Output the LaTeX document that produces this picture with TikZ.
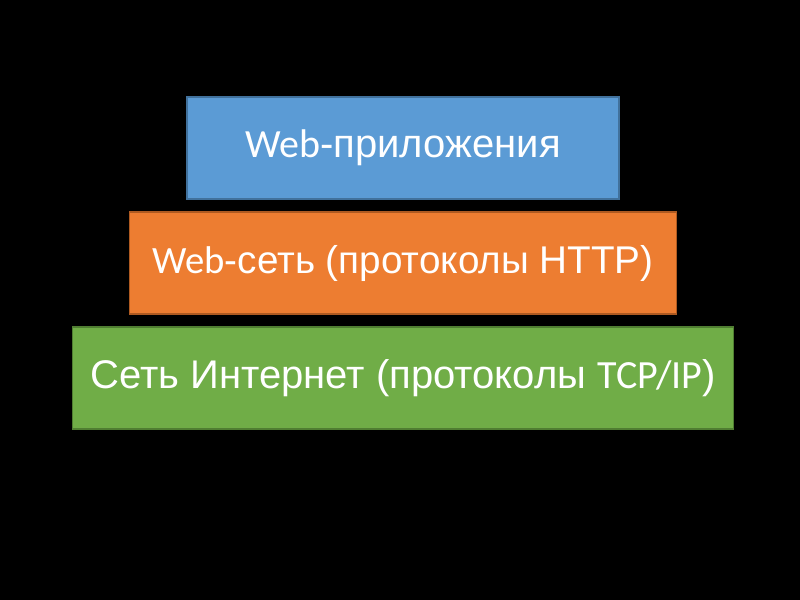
\documentclass[tikz,border=0pt]{standalone}
\usepackage{fontspec}
\setmainfont{Liberation Sans}
\newfontfamily\latinfont{Carlito}
\usetikzlibrary{positioning}
\definecolor{apps}{HTML}{5B9BD5}
\definecolor{appsline}{HTML}{41719C}
\definecolor{web}{HTML}{ED7D31}
\definecolor{webline}{HTML}{AE5A21}
\definecolor{inet}{HTML}{70AD47}
\definecolor{inetline}{HTML}{507E32}

\begin{document}
\begin{tikzpicture}[
  x=0.75pt, y=-0.75pt,
  layer/.style={draw, line width=1pt, inner sep=0pt, outer sep=0pt,
    minimum height=76.5pt, text=white},
]
% Background (800 x 600 px)
\fill[black] (0,0) rectangle (800,600);
\useasboundingbox (0,0) rectangle (800,600);
% Top layer
\node[layer, fill=apps, draw=appsline, minimum width=324pt,
  font=\fontsize{30}{34}\selectfont] (apps) at (403,148)
  {{\latinfont Web}-приложения};
% Middle layer
\node[layer, fill=web, draw=webline, minimum width=410pt,
  font=\fontsize{29}{33}\selectfont, below=9.75pt of apps] (web)
  {{\latinfont Web}-сеть (протоколы HTTP)};
% Bottom layer
\node[layer, fill=inet, draw=inetline, minimum width=496pt,
  font=\fontsize{30}{34}\selectfont, below=9.75pt of web] (inet)
  {Сеть Интернет (протоколы {\latinfont TCP/IP})};
\end{tikzpicture}
\end{document}
